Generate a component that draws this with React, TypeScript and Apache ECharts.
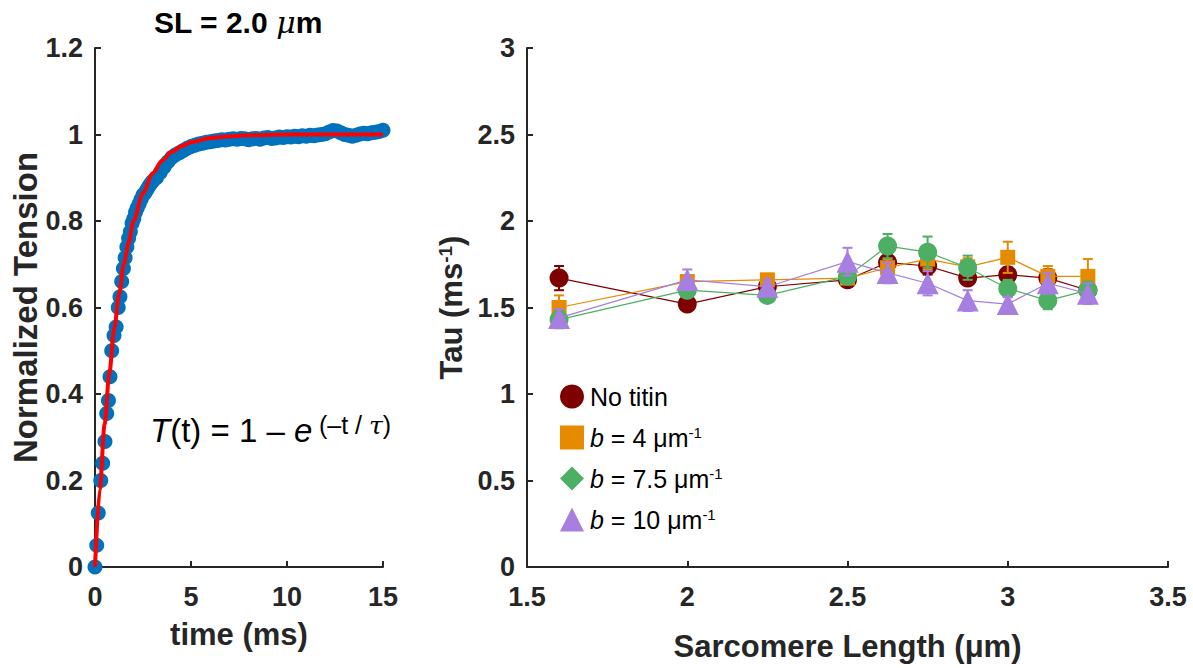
import React, { useEffect, useRef } from "react";
import * as echarts from "echarts";

const FONT = "'Liberation Sans', Arial, Helvetica, sans-serif";
const AXIS_COLOR = "#262626";

// Left panel: measured tension recovery (time in ms, normalized tension)
const timeMs = [
  0, 0.09, 0.17, 0.3, 0.4, 0.52, 0.61, 0.7, 0.78, 0.87, 0.99, 1.1, 1.21, 1.3, 1.39,
  1.48, 1.57, 1.66, 1.75, 1.84, 1.93, 2.02, 2.11, 2.2, 2.3, 2.4, 2.5, 2.6, 2.7, 2.8,
  2.9, 3.0, 3.2, 3.4, 3.6, 3.8, 4.0, 4.2, 4.4, 4.6, 4.8, 5.0, 5.2, 5.4, 5.6, 5.8,
  6.0, 6.2, 6.4, 6.6, 6.8, 7.0, 7.2, 7.4, 7.6, 7.8, 8.0, 8.2, 8.4, 8.6, 8.8, 9.0,
  9.2, 9.4, 9.6, 9.8, 10.0, 10.2, 10.4, 10.6, 10.8, 11.0, 11.2, 11.4, 11.6, 11.8,
  12.0, 12.2, 12.4, 12.6, 12.8, 13.0, 13.2, 13.4, 13.6, 13.8, 14.0, 14.2, 14.4,
  14.6, 14.8, 15.0,
];
const normTension = [
  0, 0.05, 0.125, 0.2, 0.24, 0.29, 0.355, 0.385, 0.44, 0.5, 0.535, 0.555, 0.6, 0.625, 0.66,
  0.69, 0.715, 0.74, 0.76, 0.775, 0.795, 0.805, 0.82, 0.83, 0.84, 0.85, 0.86, 0.865, 0.872, 0.88,
  0.886, 0.892, 0.9, 0.912, 0.925, 0.937, 0.947, 0.953, 0.958, 0.963, 0.968, 0.972, 0.975, 0.978, 0.98, 0.982,
  0.983, 0.985, 0.986, 0.988, 0.987, 0.989, 0.99, 0.989, 0.991, 0.99, 0.988, 0.99, 0.991, 0.989, 0.992, 0.993,
  0.991, 0.992, 0.994, 0.993, 0.995, 0.994, 0.996, 0.995, 0.997, 0.996, 0.998, 0.997, 0.999, 1.0,
  1.002, 1.006, 1.009, 1.008, 1.004, 1.0, 0.998, 0.996, 0.998, 1.001, 1.003, 1.002, 1.004,
  1.005, 1.007, 1.01,
];
// Red fitted curve
const fitTime = [0, 0.25, 0.5, 0.75, 1, 1.25, 1.5, 1.75, 2, 2.5, 3, 3.5, 4, 4.5, 5, 6, 7, 8, 10, 12, 15];
const fitTension = [0, 0.18, 0.33, 0.45, 0.55, 0.63, 0.7, 0.75, 0.8, 0.865, 0.91, 0.94, 0.96, 0.973, 0.982, 0.992, 0.996, 0.998, 1.0, 1.0, 1.0];

// Right panel: tau vs sarcomere length
const sarcomereLength = [1.6, 2.0, 2.25, 2.5, 2.625, 2.75, 2.875, 3.0, 3.125, 3.25];
const tauNoTitin = [1.67, 1.52, 1.62, 1.66, 1.76, 1.74, 1.67, 1.69, 1.67, 1.6];
const errNoTitin = [0.07, 0.03, 0.03, 0.04, 0.05, 0.05, 0.04, 0.04, 0.05, 0.04];
const tauB4 = [1.5, 1.65, 1.66, 1.67, 1.73, 1.78, 1.735, 1.79, 1.68, 1.68];
const errB4 = [0.07, 0.03, 0.03, 0.03, 0.05, 0.06, 0.05, 0.09, 0.06, 0.1];
const tauB75 = [1.43, 1.6, 1.57, 1.68, 1.855, 1.82, 1.73, 1.61, 1.54, 1.6];
const errB75 = [0.05, 0.04, 0.03, 0.04, 0.07, 0.09, 0.07, 0.05, 0.05, 0.05];
const tauB10 = [1.44, 1.66, 1.62, 1.765, 1.7, 1.64, 1.54, 1.52, 1.64, 1.58];
const errB10 = [0.05, 0.06, 0.04, 0.08, 0.06, 0.07, 0.06, 0.04, 0.06, 0.06];

const seriesNames = ["No titin", "b = 4 μm-1", "b = 7.5 μm-1", "b = 10 μm-1"];
const bValues = ["", "4", "7.5", "10"];
const seriesColors = ["#7f0000", "#e68a00", "#4caf63", "#a67fe0"];
const seriesSymbols = ["circle", "rect", "circle", "triangle"];
const legendIcons = ["circle", "rect", "diamond", "triangle"];
const symbolSizes = [19, 15, 19, 22];

const leftXTicks = { min: 0, max: 15, interval: 5 };
const leftYTicks = { min: 0, max: 1.2, interval: 0.2 };
const rightXTicks = { min: 1.5, max: 3.5, interval: 0.5 };
const rightYTicks = { min: 0, max: 3, interval: 0.5 };

const fmt = (v: number) => String(Math.round(v * 100) / 100);

const nameStyle = { color: AXIS_COLOR, fontSize: 31, fontWeight: "bold", fontFamily: FONT };
const xLabelStyle = { color: AXIS_COLOR, fontSize: 27, fontWeight: "bold", fontFamily: FONT, formatter: fmt, margin: 16 };

const axisCommon = (extra: any) => ({
  type: "value",
  splitLine: { show: false },
  axisLine: { show: true, onZero: false, lineStyle: { color: AXIS_COLOR, width: 2 } },
  axisTick: { show: true, inside: true, length: 6, lineStyle: { color: AXIS_COLOR, width: 2 } },
  axisLabel: {
    color: AXIS_COLOR,
    fontSize: 27,
    fontWeight: "bold",
    fontFamily: FONT,
    formatter: fmt,
    margin: 12,
  },
  nameLocation: "middle",
  nameTextStyle: nameStyle,
  ...extra,
});

export default function App() {
  const ref = useRef<HTMLDivElement>(null);

  useEffect(() => {
    document.body.style.margin = "0";
    if (!ref.current) return;
    const chart = echarts.init(ref.current, null, { renderer: "svg" });

    const tauSets = [tauNoTitin, tauB4, tauB75, tauB10];
    const errSets = [errNoTitin, errB4, errB75, errB10];

    const rightSeries: any[] = [];
    tauSets.forEach((tau, k) => {
      const color = seriesColors[k];
      rightSeries.push({
        type: "custom",
        name: seriesNames[k] + " error",
        xAxisIndex: 1,
        yAxisIndex: 1,
        z: 3 + k * 2,
        silent: true,
        data: sarcomereLength.map((x, i) => [x, tau[i] - errSets[k][i], tau[i] + errSets[k][i]]),
        encode: { x: 0, y: [1, 2] },
        renderItem: (params: any, api: any) => {
          const x = api.value(0);
          const lo = api.coord([x, api.value(1)]);
          const hi = api.coord([x, api.value(2)]);
          const hw = 5;
          const style = { stroke: color, lineWidth: 2 };
          return {
            type: "group",
            children: [
              { type: "line", shape: { x1: lo[0], y1: lo[1], x2: hi[0], y2: hi[1] }, style },
              { type: "line", shape: { x1: lo[0] - hw, y1: lo[1], x2: lo[0] + hw, y2: lo[1] }, style },
              { type: "line", shape: { x1: hi[0] - hw, y1: hi[1], x2: hi[0] + hw, y2: hi[1] }, style },
            ],
          };
        },
      });
      rightSeries.push({
        type: "line",
        name: seriesNames[k],
        xAxisIndex: 1,
        yAxisIndex: 1,
        z: 4 + k * 2,
        data: sarcomereLength.map((x, i) => [x, tau[i]]),
        symbol: seriesSymbols[k],
        symbolSize: symbolSizes[k],
        showAllSymbol: true,
        lineStyle: { color, width: 1.2 },
        itemStyle: { color, opacity: 1 },
      });
    });

    const legendText = (name: string) => {
      const k = seriesNames.indexOf(name);
      if (k <= 0) return name;
      return `{i|b} = ${bValues[k]} μm{sup|-1}`;
    };

    const option: any = {
      animation: false,
      backgroundColor: "#ffffff",
      grid: [
        { left: 95, top: 48, width: 288, height: 519, outerBoundsMode: "none", containLabel: false },
        { left: 527, top: 48, width: 641, height: 519, outerBoundsMode: "none", containLabel: false },
      ],
      xAxis: [
        axisCommon({ gridIndex: 0, ...leftXTicks, name: "time (ms)", nameGap: 52, axisLabel: xLabelStyle }),
        axisCommon({ gridIndex: 1, ...rightXTicks, name: "Sarcomere Length (μm)", nameGap: 64, axisLabel: xLabelStyle }),
      ],
      yAxis: [
        axisCommon({
          gridIndex: 0,
          ...leftYTicks,
          name: "Normalized Tension",
          nameGap: 51,
          nameTextStyle: { ...nameStyle, fontSize: 33 },
        }),
        axisCommon({
          gridIndex: 1,
          ...rightYTicks,
          name: "Tau (ms{sup|-1})",
          nameGap: 52,
          nameTextStyle: {
            ...nameStyle,
            rich: {
              sup: { fontSize: 19, fontWeight: "bold", fontFamily: FONT, color: AXIS_COLOR, verticalAlign: "top" },
            },
          },
        }),
      ],
      legend: {
        orient: "vertical",
        left: 555,
        top: 379,
        itemWidth: 24,
        itemHeight: 24,
        itemGap: 16,
        data: seriesNames.map((n, k) => ({ name: n, icon: legendIcons[k] })),
        formatter: legendText,
        textStyle: {
          color: "#000",
          fontSize: 25,
          fontFamily: FONT,
          padding: [0, 0, 0, 1],
          rich: {
            i: { fontSize: 25, fontStyle: "italic", fontFamily: FONT, color: "#000" },
            sup: { fontSize: 15, fontFamily: FONT, color: "#000", verticalAlign: "top" },
          },
        },
      },
      graphic: [
        {
          type: "text",
          x: 238,
          y: 22,
          style: {
            text: "{b|SL = 2.0 }{mu|μ}{b|m}",
            align: "center",
            verticalAlign: "middle",
            rich: {
              b: { fontSize: 30, fontWeight: "bold", fontFamily: FONT, fill: "#000" },
              mu: { fontSize: 30, fontStyle: "italic", fontFamily: "'DejaVu Serif', serif", fill: "#000" },
            },
          },
        },
        {
          type: "text",
          x: 150,
          y: 430,
          style: {
            text: "{it|T}(t) = 1 – {it|e}",
            verticalAlign: "middle",
            fontSize: 33,
            fontFamily: FONT,
            fill: "#000",
            rich: {
              it: { fontSize: 33, fontStyle: "italic", fontFamily: FONT, fill: "#000" },
            },
          },
        },
        {
          type: "text",
          x: 319,
          y: 425,
          style: {
            text: "(–t / {tau|τ})",
            verticalAlign: "middle",
            fontSize: 25,
            fontFamily: FONT,
            fill: "#000",
            rich: {
              tau: { fontSize: 25, fontStyle: "italic", fontFamily: "'DejaVu Serif', serif", fill: "#000" },
            },
          },
        },
      ],
      series: [
        {
          type: "scatter",
          name: "Tension",
          xAxisIndex: 0,
          yAxisIndex: 0,
          data: timeMs.map((t, i) => [t, normTension[i]]),
          symbol: "circle",
          symbolSize: 15,
          itemStyle: { color: "#0072bd", opacity: 1 },
          z: 2,
        },
        {
          type: "line",
          name: "Fit",
          xAxisIndex: 0,
          yAxisIndex: 0,
          data: fitTime.map((t, i) => [t, fitTension[i]]),
          showSymbol: false,
          symbol: "none",
          smooth: 0.3,
          smoothMonotone: "x",
          lineStyle: { color: "#ff0000", width: 4 },
          z: 3,
        },
        ...rightSeries,
      ],
    };

    chart.setOption(option);
    return () => chart.dispose();
  }, []);

  return <div ref={ref} style={{ width: 1193, height: 668, position: "absolute", left: 0, top: 0 }} />;
}
